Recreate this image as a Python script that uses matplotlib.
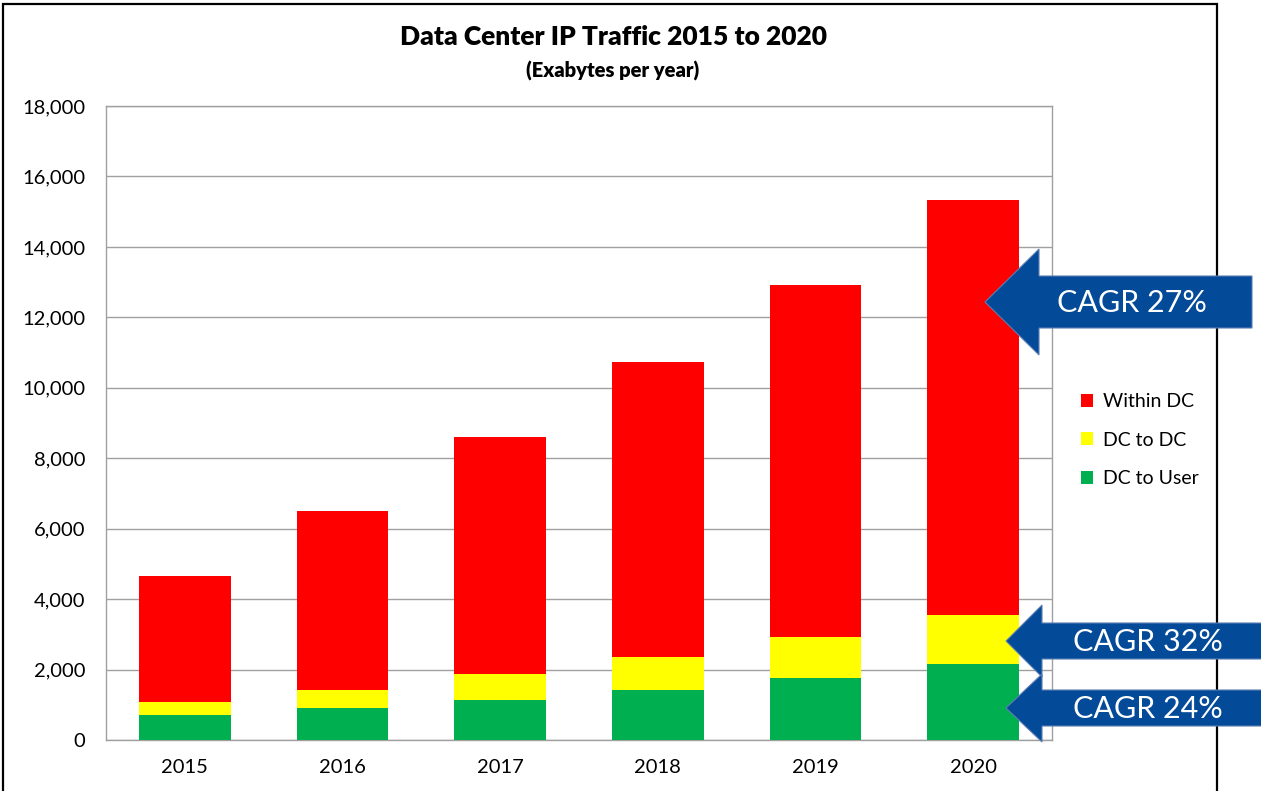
import matplotlib.pyplot as plt
from matplotlib.patches import Polygon, Rectangle
from matplotlib.ticker import FuncFormatter

years = ['2015', '2016', '2017', '2018', '2019', '2020']
dc_to_user = [715, 915, 1145, 1430, 1755, 2170]
dc_to_dc = [360, 515, 730, 920, 1160, 1390]
within_dc = [3585, 5080, 6735, 8380, 10000, 11770]
cagr_labels = ['CAGR 27%', 'CAGR 32%', 'CAGR 24%']

W, H = 1261, 791
plt.rcParams['font.family'] = ['Lato', 'DejaVu Sans']

fig = plt.figure(figsize=(W / 100, H / 100), dpi=100)
ax = fig.add_axes([106 / W, 51 / H, (1052 - 106) / W, (740 - 106) / H])

x = range(len(years))
bottom2 = [a + b for a, b in zip(dc_to_user, dc_to_dc)]
ax.bar(x, dc_to_user, width=0.58, color='#00B050', label='DC to User', zorder=3)
ax.bar(x, dc_to_dc, width=0.58, bottom=dc_to_user, color='#FFFF00', label='DC to DC', zorder=3)
ax.bar(x, within_dc, width=0.58, bottom=bottom2, color='#FF0000', label='Within DC', zorder=3)

ax.set_ylim(0, 18000)
ax.set_xlim(-0.5, len(years) - 0.5)
ax.set_yticks(range(0, 18001, 2000))
ax.yaxis.set_major_formatter(FuncFormatter(lambda v, p: f'{int(v):,}'))
ax.set_xticks(list(x))
ax.set_xticklabels(years)
ax.tick_params(axis='both', length=0, labelsize=14.5, colors='#000000')
ax.tick_params(axis='y', pad=15)
ax.tick_params(axis='x', pad=14)
ax.grid(axis='y', color='#A0A0A0', linewidth=1, zorder=0)
for s in ax.spines.values():
    s.set_color('#A0A0A0')
    s.set_linewidth(1)

handles, labels = ax.get_legend_handles_labels()
leg = fig.legend(handles[::-1], labels[::-1], loc='center left',
                 bbox_to_anchor=(1063 / W, 1 - 440 / H), frameon=False,
                 fontsize=14, handlelength=0.65, handleheight=0.65,
                 labelspacing=1.1, handletextpad=0.5)

fig.text(613 / W, 1 - 37 / H, 'Data Center IP Traffic 2015 to 2020',
         ha='center', va='center', fontsize=19, fontweight='heavy')
fig.text(613 / W, 1 - 71 / H, '(Exabytes per year)',
         ha='center', va='center', fontsize=14.5, fontweight='heavy')

# outer frame
fig.patches.append(Rectangle((3 / W, -0.1), (1217 - 3) / W, 1 - 4 / H + 0.1,
                             transform=fig.transFigure, fill=False,
                             edgecolor='black', linewidth=1.6))


def arrow(tip_x, tip_y, base_x, head_half, shaft_half, end_x, text_x, text):
    pts = [(tip_x, tip_y), (base_x, tip_y - head_half), (base_x, tip_y - shaft_half),
           (end_x, tip_y - shaft_half), (end_x, tip_y + shaft_half),
           (base_x, tip_y + shaft_half), (base_x, tip_y + head_half)]
    pts = [(px / W, 1 - py / H) for px, py in pts]
    fig.patches.append(Polygon(pts, closed=True, transform=fig.transFigure,
                               facecolor='#034A98', edgecolor='#5B7FB5',
                               linewidth=0.8, zorder=5))
    fig.text(text_x / W, 1 - (tip_y + 1) / H, text, ha='center', va='center',
             color='white', fontsize=22, zorder=6)


arrow(985, 302, 1039, 53, 26, 1252, 1132, cagr_labels[0])
arrow(1006, 641, 1042, 36, 18, 1265, 1148, cagr_labels[1])
arrow(1006, 708, 1042, 34, 18, 1265, 1148, cagr_labels[2])

fig.savefig('out.png', dpi=100)
